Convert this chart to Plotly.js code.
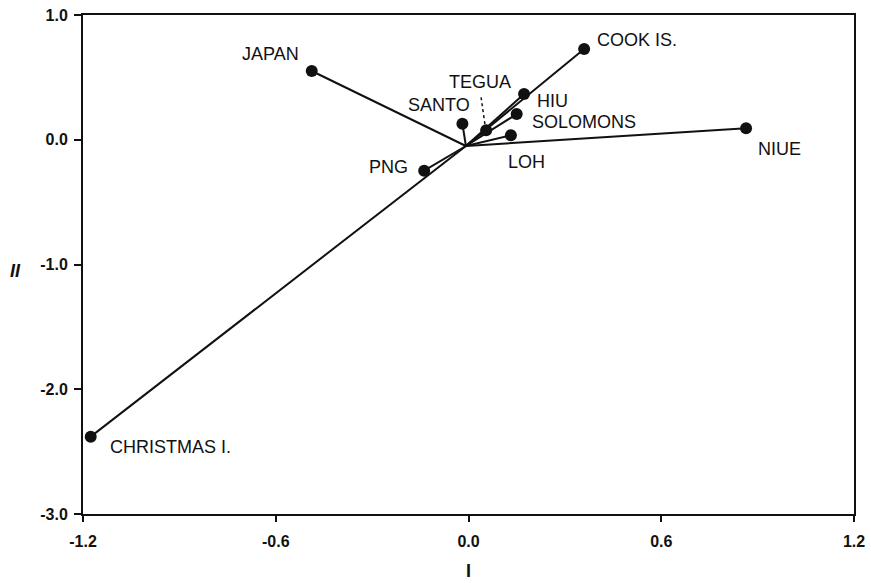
<!DOCTYPE html>
<html>
<head>
<meta charset="utf-8">
<script src="https://cdn.plot.ly/plotly-3.0.1.min.js"></script>
<style>html,body{margin:0;padding:0;background:#fff;}#chart{width:871px;height:583px;}</style>
</head>
<body>
<div id="chart"></div>
<script>
// Data
const sites = ["JAPAN", "COOK IS.", "HIU", "SOLOMONS", "LOH", "TEGUA", "SANTO", "PNG", "NIUE", "CHRISTMAS I."];
const axisI  = [-0.488, 0.360, 0.173, 0.150, 0.132, 0.055, -0.019, -0.138, 0.864, -1.176];
const axisII = [ 0.551, 0.727, 0.367, 0.206, 0.036, 0.076,  0.129, -0.248, 0.092, -2.380];
const originI = -0.008;
const originII = -0.05;
const xTicks = [-1.2, -0.6, 0.0, 0.6, 1.2];
const yTicks = [-3.0, -2.0, -1.0, 0.0, 1.0];

// label placement (pixel shifts from each point)
const labelDX = [-41, 53, 28, 67, 16, -6, -23, -36, 33, 80];
const labelDY = [ 17,  9, -7, -8, -27, 48, 19,   4, -21, -10];

const traces = [];
// vectors from origin
sites.forEach((s, i) => {
  traces.push({
    x: [originI, axisI[i]], y: [originII, axisII[i]],
    mode: 'lines', type: 'scatter', hoverinfo: 'skip',
    line: {color: '#111', width: 2}, showlegend: false
  });
});
// points
traces.push({
  x: axisI, y: axisII, mode: 'markers', type: 'scatter', text: sites,
  marker: {color: '#111', size: 12}, showlegend: false
});
// dotted leader for TEGUA label
const ti = sites.indexOf("TEGUA");
traces.push({
  x: [axisI[ti] - 0.004, axisI[ti] - 0.016], y: [axisII[ti] + 0.05, axisII[ti] + 0.267],
  mode: 'lines', type: 'scatter', hoverinfo: 'skip',
  line: {color: '#111', width: 1.5, dash: 'dot'}, showlegend: false
});

const labelFont = {family: 'Liberation Sans, Arial, sans-serif', size: 18, color: '#111'};
const annotations = sites.map((s, i) => ({
  x: axisI[i], y: axisII[i], xref: 'x', yref: 'y', text: s,
  showarrow: false, xshift: labelDX[i], yshift: labelDY[i],
  xanchor: 'center', yanchor: 'middle', font: labelFont
}));
annotations.push({
  x: 0.5, y: -0.114, xref: 'paper', yref: 'paper', text: '<b>I</b>', showarrow: false,
  xanchor: 'center', yanchor: 'middle',
  font: {family: 'Liberation Sans, Arial, sans-serif', size: 18, color: '#111'}
});
annotations.push({
  x: -0.088, y: 0.487, xref: 'paper', yref: 'paper', text: '<b><i>II</i></b>', showarrow: false,
  xanchor: 'center', yanchor: 'middle',
  font: {family: 'Liberation Sans, Arial, sans-serif', size: 18, color: '#111'}
});

const tickFont = {family: 'Liberation Sans, Arial, sans-serif', size: 16, color: '#111', weight: 'bold'};
const layout = {
  width: 871, height: 583,
  margin: {l: 83, r: 17, t: 15, b: 69},
  paper_bgcolor: '#fff', plot_bgcolor: '#fff',
  showlegend: false,
  xaxis: {
    range: [-1.2, 1.2], tickvals: xTicks, ticktext: xTicks.map(v => v.toFixed(1)),
    showgrid: false, zeroline: false, showline: true, mirror: true,
    linecolor: '#111', linewidth: 2, ticks: 'outside', ticklen: 6, tickwidth: 2, tickcolor: '#111',
    tickfont: tickFont, ticklabelstandoff: 6
  },
  yaxis: {
    range: [-3.0, 1.0], tickvals: yTicks, ticktext: yTicks.map(v => v.toFixed(1)),
    showgrid: false, zeroline: false, showline: true, mirror: true,
    linecolor: '#111', linewidth: 2, ticks: 'outside', ticklen: 7, tickwidth: 2, tickcolor: '#111',
    tickfont: tickFont, ticklabelstandoff: 3
  },
  annotations: annotations
};
Plotly.newPlot('chart', traces, layout, {displayModeBar: false, staticPlot: true});
</script>
</body>
</html>
